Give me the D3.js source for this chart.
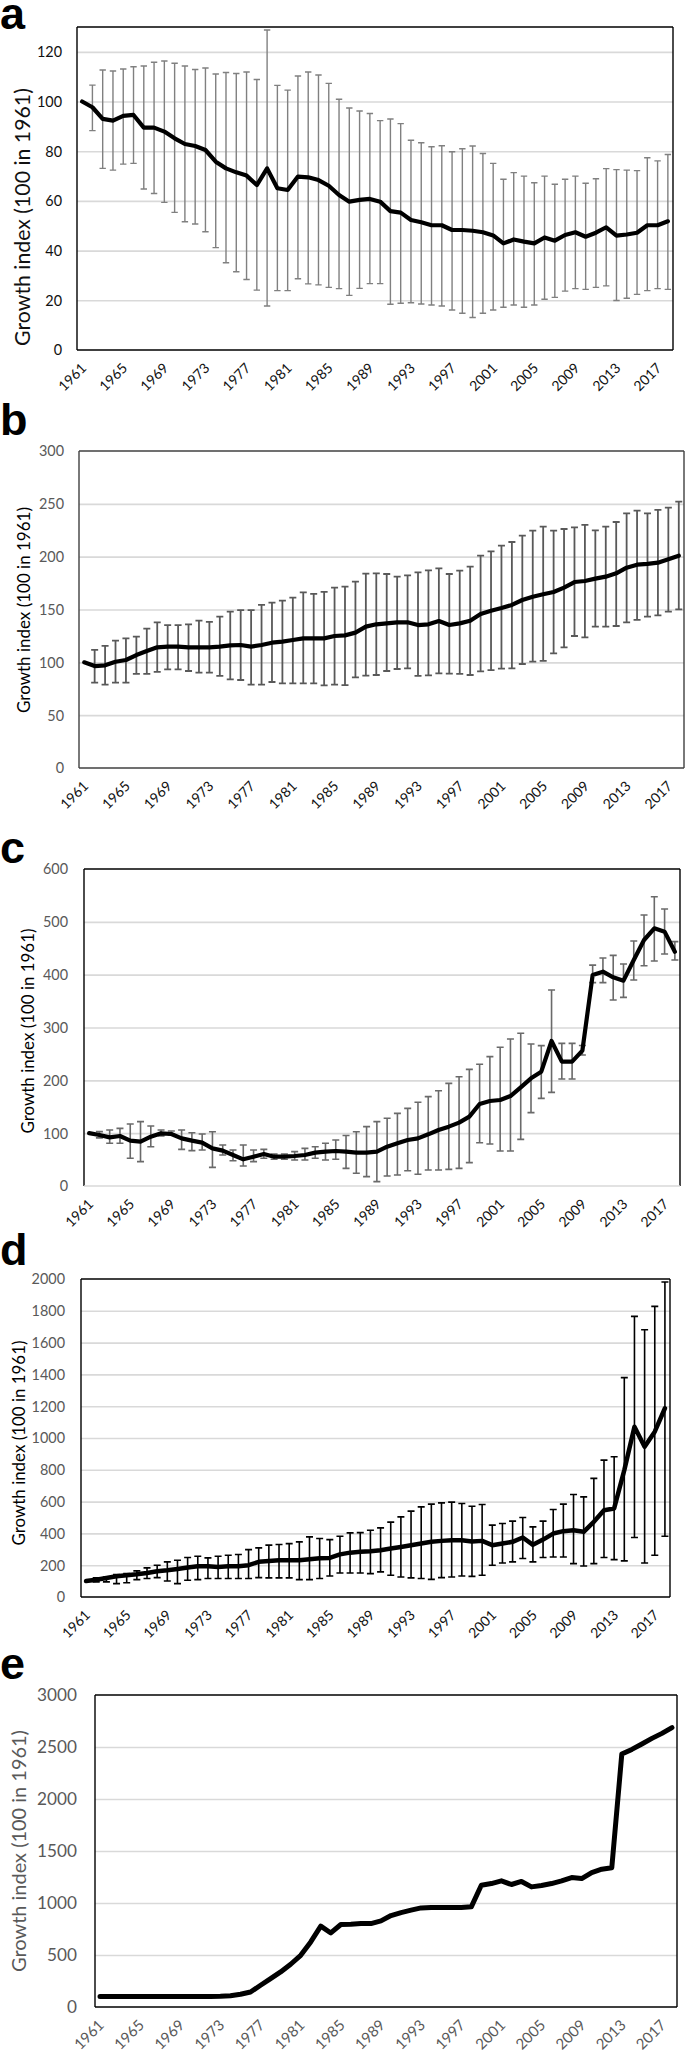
<!DOCTYPE html>
<html><head><meta charset="utf-8">
<script src="https://cdn.jsdelivr.net/npm/d3@7"></script>
<style>body{margin:0;background:#fff} svg{display:block}</style>
</head><body><svg id="chart" width="685" height="2055"></svg>
<script>
// ---------- DATA ----------
const years = [1961,1962,1963,1964,1965,1966,1967,1968,1969,1970,1971,1972,1973,1974,1975,1976,1977,1978,1979,1980,
1981,1982,1983,1984,1985,1986,1987,1988,1989,1990,1991,1992,1993,1994,1995,1996,1997,1998,1999,2000,
2001,2002,2003,2004,2005,2006,2007,2008,2009,2010,2011,2012,2013,2014,2015,2016,2017,2018];
const xTickLabels = [1961,1965,1969,1973,1977,1981,1985,1989,1993,1997,2001,2005,2009,2013,2017];
const yAxisTitle = "Growth index (100 in 1961)";

// panel a
const aMean = [100,97.7,93.0,92.3,94.2,94.6,89.5,89.5,87.9,85.2,82.9,82.1,80.5,75.8,73.1,71.5,70.2,66.4,73.1,65.1,
64.4,69.8,69.5,68.4,66.1,62.4,59.7,60.4,60.8,59.7,55.9,55.3,52.3,51.4,50.2,50.2,48.3,48.3,48.0,47.4,
46.1,42.9,44.5,43.6,42.9,45.3,44.0,46.3,47.4,45.6,47.2,49.4,46.0,46.5,47.2,50.2,50.2,51.8];
const aUpper = [null,106.6,112.7,112.3,113.1,114.0,114.3,115.8,116.3,115.4,114.3,112.9,113.5,111.1,111.7,111.3,111.9,108.9,128.8,106.5,
104.6,110.3,111.9,110.7,107.3,100.9,97.4,96.2,95.2,92.3,93.0,91.1,84.4,83.4,81.8,82.2,79.8,81.0,82.1,79.1,
75.1,68.7,71.4,70.0,67.3,70.0,66.7,68.7,70.0,67.1,68.9,73.0,72.6,72.4,72.2,77.4,76.1,78.7];
const aLower = [null,88.3,73.1,72.4,74.8,75.1,64.8,63.0,59.4,55.4,51.6,50.7,47.6,41.2,35.1,31.5,28.4,24.1,17.7,23.9,
23.9,28.7,26.6,26.2,25.2,24.7,22.0,24.8,26.7,26.7,18.4,18.8,19.0,18.5,18.1,17.7,16.1,14.8,13.1,14.8,
16.1,17.2,18.1,17.2,18.1,20.4,21.2,23.7,24.7,24.4,25.2,25.8,19.9,20.8,22.4,23.9,24.7,24.4];
const aYTicks = [0,20,40,60,80,100,120];

// panel b
const bMean = [100,96.5,97.2,100.6,102.2,106.9,110.7,114.2,114.8,114.8,114.2,114.2,114.2,114.8,116.1,116.4,114.8,116.4,118.6,119.6,
121.1,122.7,122.7,122.7,124.9,125.5,128.1,133.8,136.0,136.9,137.9,137.9,135.3,136.0,139.1,135.3,136.9,139.4,145.7,148.9,
151.4,154.3,159.0,162.1,164.4,166.6,170.7,176.0,177.0,179.2,181.1,184.2,189.6,192.4,193.1,194.3,197.5,200.9];
const bUpper = [null,111.7,115.5,120.5,122.7,124.3,131.9,137.9,135.3,135.3,136.0,139.4,138.2,143.2,147.9,149.5,149.5,154.3,156.5,158.4,
161.2,166.2,164.7,166.6,170.7,171.6,176.3,183.9,184.2,183.6,181.1,182.3,185.2,187.1,189.0,183.6,186.8,190.5,200.9,205.0,
210.4,213.9,219.9,224.6,228.4,224.6,226.2,227.8,230.0,224.9,228.4,232.8,241.0,243.5,241.0,244.2,246.4,252.1];
const bLower = [null,80.8,78.9,80.8,80.8,89.0,89.0,90.9,93.4,93.4,91.8,90.2,90.2,87.1,83.9,83.3,78.9,78.9,81.4,80.1,
80.1,80.1,80.1,78.2,78.9,78.5,85.8,87.4,88.0,91.8,93.7,94.3,87.1,87.7,89.6,89.3,89.0,88.0,91.5,92.7,
94.0,94.3,98.4,100.6,101.3,108.5,114.2,124.9,123.7,133.8,133.8,134.4,137.9,140.1,143.2,144.5,147.9,150.2];
const bYTicks = [0,50,100,150,200,250,300];

// panel c
const cMean = [100,96.5,92.0,94.6,85.8,83.9,93.4,99.7,98.4,90.2,85.8,82.0,71.3,66.9,58.7,50.5,55.5,60.6,55.5,55.5,
56.8,58.7,63.1,65.0,66.2,65.0,63.1,63.1,65.0,74.4,80.8,87.1,90.2,97.8,106.0,112.3,119.9,131.2,155.2,160.9,
162.8,170.3,186.8,203.8,216.4,274.4,235.3,235.3,256.2,399.4,405.7,394.9,388.6,427.8,465.6,487.7,481.4,443.5];
const cUpper = [null,103,106,109.1,117.4,121.8,113.6,106,104,106,100.9,98.4,102.8,77.6,68.1,77.6,68.1,69.4,60.6,60.6,
65.0,71.3,74.4,80.8,87.1,95.5,102.8,112.3,121.8,128.1,137.5,147.0,158.4,169.1,180.4,194.3,206.9,220.8,230.3,244.8,
262.5,278.2,289.0,268.8,265.6,371,270,270,266,418,431.5,436.6,420.2,463.7,512.9,547.6,524.3,462.5];
const cLower = [null,91,80.8,80.8,52.4,46.1,74.4,94.6,96.5,69.4,66.9,68.1,35.3,58.7,47.9,37.9,46.1,52.4,50.5,50.5,
49.2,49.2,52.4,49.2,50.5,33.4,24.0,17.7,8.2,18.9,20.8,29.0,22.1,30.3,30.3,31.5,33.4,44.2,82.0,79.5,
66.2,66.2,88.3,138.8,165.9,177.3,202.5,202.5,248,385,384.9,352,357.1,389.9,417,425.9,439.1,427.8];
const cYTicks = [0,100,200,300,400,500,600];

// panel d
const dMean = [100,109,120,130,137,143,151,162,168,176,185,193,193,189,193,193,200,221,227,231,
231,231,237,244,246,268,279,284,288,294,305,315,326,336,347,353,357,357,349,353,
326,336,347,374,328,361,399,414,420,410,473,546,557,798,1071,945,1040,1187];
const dUpper = [null,120,126,141,147,164,183,200,221,231,248,256,246,256,263,267,298,309,326,330,
336,347,378,368,361,382,403,405,420,435,471,504,540,567,584,592,597,588,571,582,
452,462,477,500,441,477,550,584,645,630,746,861,882,1380,1765,1681,1828,1981];
const dLower = [null,95,95,84,90,109,116,122,101,84,105,109,116,116,116,116,116,122,120,120,
120,109,109,116,132,151,151,151,147,158,137,126,120,116,111,122,126,132,130,137,
200,214,221,242,221,248,252,252,210,195,210,248,235,227,374,214,263,382];
const dYTicks = [0,200,400,600,800,1000,1200,1400,1600,1800,2000];

// panel e
const eMean = [100,100,100,100,100,100,100,100,100,100,100,100,103,109,122,144,209,273,337,411,
497,626,777,712,793,796,802,802,828,879,908,931,953,956,956,956,956,963,1171,1187,
1213,1178,1207,1155,1168,1187,1213,1245,1235,1293,1325,1338,2432,2477,2529,2583,2631,2686];
const eYTicks = [0,500,1000,1500,2000,2500,3000];

// ---------- LAYOUT ----------
const panels = [
  {letter:"a", letterY:29, mean:aMean, upper:aUpper, lower:aLower, yTicks:aYTicks, yMax:130,
   left:77, right:673, top:27, bottom:350, frame:"#000", bottomLine:"#000",
   yTickPad:15, yTickSize:14.4, yTickColor:"#111", xTickSize:14, xTickColor:"#111",
   titleX:30, titleY:217, titleLen:258, titleColor:"#111",
   errColor:"#808080", errWidth:1.4, capHalf:3.2, lineWidth:4.2},
  {letter:"b", letterY:435, mean:bMean, upper:bUpper, lower:bLower, yTicks:bYTicks, yMax:300,
   left:79, right:684, top:451, bottom:768, frame:"#404040", bottomLine:"#404040",
   yTickPad:15, yTickSize:14.4, yTickColor:"#595959", xTickSize:14, xTickColor:"#111",
   titleX:30, titleY:610, titleLen:206, titleColor:"#000",
   errColor:"#595959", errWidth:1.8, capHalf:3.5, lineWidth:4.2},
  {letter:"c", letterY:863, mean:cMean, upper:cUpper, lower:cLower, yTicks:cYTicks, yMax:600,
   left:84, right:680, top:869, bottom:1186, frame:"#000", bottomLine:"#d9d9d9",
   yTickPad:16, yTickSize:14.4, yTickColor:"#595959", xTickSize:14, xTickColor:"#111",
   titleX:34, titleY:1031, titleLen:205, titleColor:"#000",
   errColor:"#6a6a6a", errWidth:1.6, capHalf:3.5, lineWidth:4.2},
  {letter:"d", letterY:1265, mean:dMean, upper:dUpper, lower:dLower, yTicks:dYTicks, yMax:2000,
   left:81, right:670, top:1279, bottom:1597, frame:"#000", bottomLine:"#000",
   yTickPad:16, yTickSize:14.4, yTickColor:"#595959", xTickSize:14, xTickColor:"#111",
   titleX:25, titleY:1443, titleLen:205, titleColor:"#000",
   errColor:"#000", errWidth:1.6, capHalf:3.5, lineWidth:4.5},
  {letter:"e", letterY:1679, mean:eMean, upper:null, lower:null, yTicks:eYTicks, yMax:3000,
   left:95, right:677, top:1695, bottom:2007, frame:"#000", bottomLine:"#000",
   yTickPad:18, yTickSize:17.2, yTickColor:"#595959", xTickSize:15, xTickColor:"#595959",
   titleX:26, titleY:1851, titleLen:242, titleColor:"#595959",
   errColor:"#000", errWidth:1.6, capHalf:3.5, lineWidth:5}
];

const svg = d3.select("#chart");
const tickFont = "Lato, 'Open Sans', sans-serif";

panels.forEach(p => {
  const g = svg.append("g");
  const x = d3.scaleBand().domain(years).range([p.left, p.right]);
  const cx = yr => x(yr) + x.bandwidth() / 2;
  const y = d3.scaleLinear().domain([0, p.yMax]).range([p.bottom, p.top]);
  const w = p.right - p.left;

  // gridlines
  g.append("g").attr("transform", `translate(${p.left},0)`)
    .call(d3.axisLeft(y).tickValues(p.yTicks.filter(v => v > 0 && v < p.yMax)).tickSize(-w).tickFormat(""))
    .call(s => s.select(".domain").remove())
    .call(s => s.selectAll("line").attr("stroke", "#d9d9d9").attr("stroke-width", 1.6));

  // y tick labels
  g.append("g").attr("transform", `translate(${p.left},0)`)
    .call(d3.axisLeft(y).tickValues(p.yTicks).tickSize(0).tickPadding(p.yTickPad).tickFormat(d3.format("d")))
    .call(s => s.select(".domain").remove())
    .call(s => s.selectAll("text").attr("fill", p.yTickColor).attr("font-size", p.yTickSize)
        .attr("font-family", tickFont).attr("dy", "0.34em"));

  // x tick labels
  const xa = g.append("g").attr("transform", `translate(0,${p.bottom})`)
    .call(d3.axisBottom(x).tickValues(xTickLabels).tickSize(0))
    .call(s => s.select(".domain").remove());
  xa.selectAll(".tick").attr("transform", d => `translate(${cx(d)},0)`);
  xa.selectAll("text").attr("x", 0).attr("y", 0).attr("dy", 0)
    .attr("text-anchor", "end").attr("transform", "translate(5,19) rotate(-45)")
    .attr("fill", p.xTickColor).attr("font-size", p.xTickSize).attr("font-family", tickFont);

  // frame
  g.append("line").attr("x1", p.left).attr("x2", p.right).attr("y1", p.top).attr("y2", p.top)
    .attr("stroke", p.frame).attr("stroke-width", 1.4);
  g.append("line").attr("x1", p.left).attr("x2", p.left).attr("y1", p.top).attr("y2", p.bottom)
    .attr("stroke", p.frame).attr("stroke-width", 1.4);
  g.append("line").attr("x1", p.right).attr("x2", p.right).attr("y1", p.top).attr("y2", p.bottom)
    .attr("stroke", p.frame).attr("stroke-width", 1.4);
  g.append("line").attr("x1", p.left).attr("x2", p.right).attr("y1", p.bottom).attr("y2", p.bottom)
    .attr("stroke", p.bottomLine).attr("stroke-width", p.bottomLine === "#d9d9d9" ? 1.6 : 1.4);

  // error bars
  if (p.upper) {
    const eb = years.map((yr, i) => ({yr, hi: p.upper[i], lo: p.lower[i]})).filter(d => d.hi != null);
    const eg = g.append("g").attr("stroke", p.errColor).attr("stroke-width", p.errWidth).attr("fill", "none");
    eg.selectAll("path").data(eb).join("path")
      .attr("d", d => {
        const xx = cx(d.yr), y1 = y(d.hi), y2 = y(d.lo), c = p.capHalf;
        return `M${xx},${y1}V${y2}M${xx - c},${y1}H${xx + c}M${xx - c},${y2}H${xx + c}`;
      });
  }

  // mean line
  const line = d3.line().x((d, i) => cx(years[i])).y(d => y(d));
  g.append("path").datum(p.mean).attr("d", line).attr("fill", "none")
    .attr("stroke", "#000").attr("stroke-width", p.lineWidth)
    .attr("stroke-linejoin", "round").attr("stroke-linecap", "round");

  // y axis title
  const t = g.append("text").text(yAxisTitle)
    .attr("font-family", tickFont).attr("font-size", 16).attr("fill", p.titleColor)
    .attr("text-anchor", "middle")
    .attr("transform", `translate(${p.titleX},${p.titleY}) rotate(-90)`);
  const len = t.node().getComputedTextLength();
  t.attr("font-size", 16 * p.titleLen / len);

  // panel letter
  g.append("text").text(p.letter).attr("x", 0).attr("y", p.letterY)
    .attr("font-family", "'Liberation Sans', Arial, sans-serif").attr("font-weight", "bold")
    .attr("font-size", 45).attr("fill", "#000");
});
</script>
</body></html>
